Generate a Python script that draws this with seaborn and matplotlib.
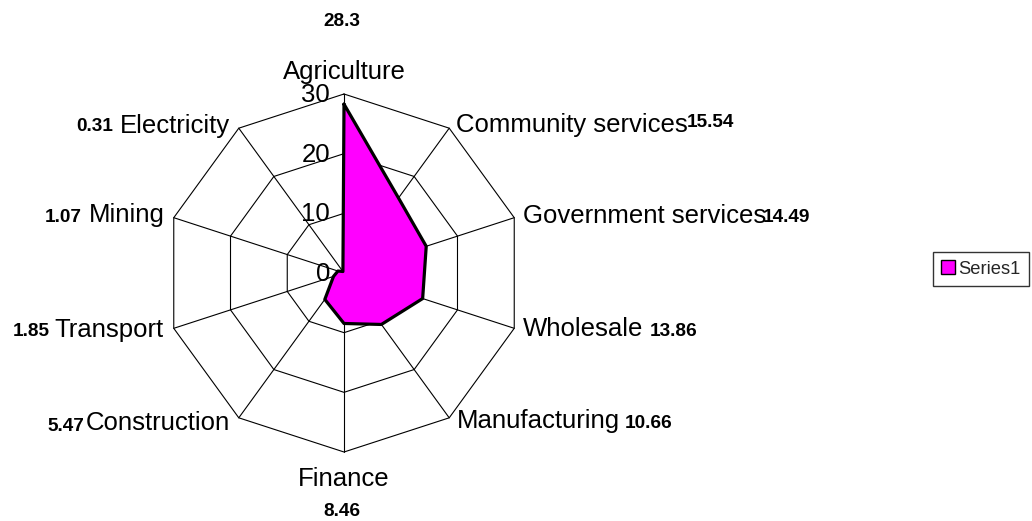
import numpy as np
import pandas as pd
import matplotlib
matplotlib.use("Agg")
import matplotlib.pyplot as plt
from matplotlib.patches import Patch
import seaborn as sns

# Share of output by sector
categories = ["Agriculture", "Community services", "Government services", "Wholesale",
              "Manufacturing", "Finance", "Construction", "Transport", "Mining", "Electricity"]
values = [28.3, 15.54, 14.49, 13.86, 10.66, 8.46, 5.47, 1.85, 1.07, 0.31]
ring_ticks = [0, 10, 20, 30]
series_name = "Series1"

sns.set_theme(style="white")
plt.rcParams["font.family"] = ["Liberation Sans", "DejaVu Sans"]

W, H = 1032, 521
fig = plt.figure(figsize=(W / 100, H / 100), dpi=100)
cx, cy, rad = 344, 273, 179
ax = fig.add_axes([(cx - rad) / W, (H - cy - rad) / H, 2 * rad / W, 2 * rad / H],
                  projection="polar")
ax.set_theta_offset(np.pi / 2)
ax.set_theta_direction(-1)
rmax = ring_ticks[-1]
ax.set_ylim(0, rmax)
ax.grid(False)
ax.set_xticks([])
ax.set_yticks([])
ax.spines["polar"].set_visible(False)
ax.patch.set_alpha(0)

n = len(categories)
theta = np.linspace(0, 2 * np.pi, n, endpoint=False)
closed = np.append(theta, theta[0])

# decagonal rings and spokes
for r in ring_ticks[1:]:
    ax.plot(closed, [r] * (n + 1), color="black", lw=0.8, clip_on=False, zorder=2)
for t in theta:
    ax.plot([t, t], [0, rmax], color="black", lw=0.8, clip_on=False, zorder=2)

df = pd.DataFrame({"theta": closed, "value": values + [values[0]]})
ax.fill(df["theta"], df["value"], color="#FF00FF", zorder=3, clip_on=False)
sns.lineplot(data=df, x="theta", y="value", sort=False, estimator=None,
             color="black", lw=2.3, ax=ax, zorder=4, clip_on=False)
ax.set_xlabel("")
ax.set_ylabel("")

# category label placement: (ha, dx, dy) in pixels from the outer vertex
cat_pos = [("center", 0, 15), ("left", 7, -4), ("left", 9, -5), ("left", 9, -8),
           ("left", 8, -10), ("center", 0, -34), ("right", -9, -12), ("right", -10, -9),
           ("right", -9, -4), ("right", -9, -5)]
val_pos = [("center", -2, 68), ("left", 238, 1), ("left", 249, -4), ("left", 136, -8),
           ("left", 176, -10), ("center", -2, -64), ("right", -154, -13), ("right", -124, -8),
           ("right", -92, -4), ("right", -126, -3)]

for t, name, v, (ha, dx, dy), (vha, vdx, vdy) in zip(theta, categories, values, cat_pos, val_pos):
    ax.annotate(name, xy=(t, rmax), xytext=(dx, dy), textcoords="offset pixels",
                ha=ha, va="baseline", fontsize=18.5, color="black", annotation_clip=False)
    ax.annotate(f"{v:g}", xy=(t, rmax), xytext=(vdx, vdy), textcoords="offset pixels",
                ha=vha, va="baseline", fontsize=13.7, fontweight="bold", color="black",
                annotation_clip=False)

for r in ring_ticks:
    ax.annotate(str(r), xy=(0, r), xytext=(-14, -8), textcoords="offset pixels",
                ha="right", va="baseline", fontsize=18.5, color="black", annotation_clip=False)

handle = Patch(facecolor="#FF00FF", edgecolor="black", linewidth=1.0, label=series_name)
leg = fig.legend(handles=[handle], loc="center right", bbox_to_anchor=(1029 / W, 1 - 269 / H),
                 bbox_transform=fig.transFigure, frameon=True, fancybox=False,
                 edgecolor="black", fontsize=13.2, handlelength=0.75, handleheight=0.75,
                 handletextpad=0.2, borderpad=0.45, borderaxespad=0)
leg.get_frame().set_linewidth(1.0)

fig.savefig("out.png", dpi=100, facecolor="white")
